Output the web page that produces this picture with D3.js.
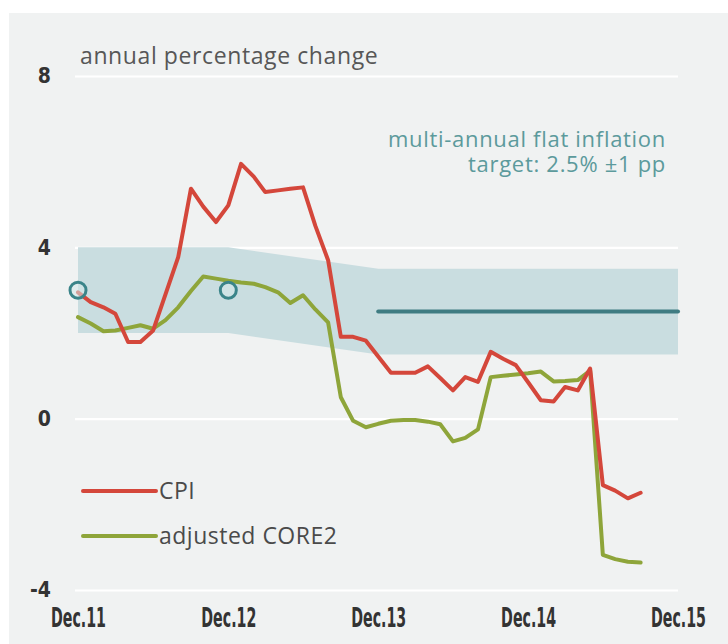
<!DOCTYPE html>
<html>
<head>
<meta charset="utf-8">
<script src="https://cdn.jsdelivr.net/npm/d3@7"></script>
<style>
  html, body { margin: 0; padding: 0; background: #ffffff; }
  svg { display: block; }
</style>
</head>
<body>
<svg id="chart" width="728" height="644"></svg>
<script>
// Monthly observations, Dec 2011 – Sep 2015
const periods = [
  "2011-12",
  "2012-01","2012-02","2012-03","2012-04","2012-05","2012-06",
  "2012-07","2012-08","2012-09","2012-10","2012-11","2012-12",
  "2013-01","2013-02","2013-03","2013-04","2013-05","2013-06",
  "2013-07","2013-08","2013-09","2013-10","2013-11","2013-12",
  "2014-01","2014-02","2014-03","2014-04","2014-05","2014-06",
  "2014-07","2014-08","2014-09","2014-10","2014-11","2014-12",
  "2015-01","2015-02","2015-03","2015-04","2015-05","2015-06",
  "2015-07","2015-08","2015-09"
];

// Annual percentage change
const cpi = [
  2.95,
  2.72, 2.60, 2.45, 1.79, 1.79, 2.06,
  2.90, 3.77, 5.37, 4.95, 4.59, 4.98,
  5.95, 5.65, 5.29, 5.33, 5.37, 5.40,
  4.50, 3.70, 1.91, 1.91, 1.82, 1.45,
  1.07, 1.07, 1.07, 1.22, 0.95, 0.66,
  0.97, 0.86, 1.56, 1.40, 1.25, 0.85,
  0.43, 0.40, 0.74, 0.66, 1.17, -1.55,
  -1.68, -1.86, -1.73
];

const core2 = [
  2.37,
  2.22, 2.04, 2.06, 2.12, 2.18, 2.10,
  2.30, 2.60, 2.98, 3.32, 3.27, 3.22,
  3.18, 3.15, 3.07, 2.95, 2.70, 2.88,
  2.55, 2.25, 0.50, -0.05, -0.20, -0.12,
  -0.05, -0.03, -0.03, -0.07, -0.13, -0.53,
  -0.45, -0.25, 0.97, 1.00, 1.03, 1.06,
  1.10, 0.87, 0.88, 0.90, 1.12, -3.18,
  -3.28, -3.34, -3.36
];

// Tolerance band around the inflation target
const bandPeriods = ["2011-12", "2012-12", "2013-12", "2015-12"];
const bandLow     = [2.0, 2.0, 1.5, 1.5];
const bandHigh    = [4.0, 4.0, 3.5, 3.5];

// Earlier annual point targets
const pointTargetPeriods = ["2011-12", "2012-12"];
const pointTargetValues  = [3.0, 3.0];

// Multi-annual flat target
const flatTargetPeriods = ["2013-12", "2015-12"];
const flatTargetValue = 2.5;

const yTicks = [-4, 0, 4, 8];
const xTickPeriods = ["2011-12", "2012-12", "2013-12", "2014-12", "2015-12"];

const seriesNames = ["CPI", "adjusted CORE2"];
const titleText = "annual percentage change";
const targetNote = ["multi-annual flat inflation", "target: 2.5% \u00b11 pp"];

// ---------------------------------------------------------------
const parse = d3.timeParse("%Y-%m");
const svg = d3.select("#chart");

const x = d3.scaleTime()
  .domain([parse("2011-12"), parse("2015-12")])
  .range([78, 678]);

const y = d3.scaleLinear()
  .domain([-4, 8])
  .range([590, 76]);

const colors = { cpi: "#d4473b", core: "#8ea53a", band: "#c9dde0", target: "#3f7c82", note: "#5c9a9c" };
const condensed = "'Liberation Sans Narrow', 'DejaVu Sans Condensed', 'Roboto', sans-serif";
const sans = "'Open Sans', 'Noto Sans', sans-serif";

// panel background
svg.append("rect")
  .attr("x", 9).attr("y", 13)
  .attr("width", 719).attr("height", 631)
  .attr("fill", "#f0f2f2");

// horizontal gridlines + value labels
const yAxis = d3.axisLeft(y)
  .tickValues(yTicks)
  .tickSize(603)
  .tickPadding(24)
  .tickFormat(d => String(d));

const gy = svg.append("g")
  .attr("transform", "translate(678,0)")
  .call(yAxis);
gy.select(".domain").remove();
gy.selectAll(".tick line")
  .attr("stroke", "#ffffff")
  .attr("stroke-width", 2.2);
gy.selectAll(".tick text")
  .attr("fill", "#333")
  .style("font-family", condensed)
  .style("font-weight", "bold")
  .style("font-size", "21px");

// tolerance band
const bandData = bandPeriods.map((p, i) => ({ date: parse(p), lo: bandLow[i], hi: bandHigh[i] }));
svg.append("path")
  .datum(bandData)
  .attr("fill", colors.band)
  .attr("d", d3.area()
    .x(d => x(d.date))
    .y0(d => y(d.lo))
    .y1(d => y(d.hi)));

// flat target line
svg.append("path")
  .datum(flatTargetPeriods.map(p => ({ date: parse(p), v: flatTargetValue })))
  .attr("fill", "none")
  .attr("stroke", colors.target)
  .attr("stroke-width", 4)
  .attr("stroke-linecap", "round")
  .attr("d", d3.line().x(d => x(d.date)).y(d => y(d.v)));

// series lines
const line = d3.line()
  .x(d => x(d.date))
  .y(d => y(d.v));

const series = [
  { key: "core", values: core2, color: colors.core },
  { key: "cpi", values: cpi, color: colors.cpi }
];

series.forEach(s => {
  svg.append("path")
    .datum(periods.map((p, i) => ({ date: parse(p), v: s.values[i] })))
    .attr("fill", "none")
    .attr("stroke", s.color)
    .attr("stroke-width", 4)
    .attr("stroke-linejoin", "round")
    .attr("stroke-linecap", "round")
    .attr("d", line);
});

// point targets
svg.selectAll("circle.pt")
  .data(pointTargetPeriods.map((p, i) => ({ date: parse(p), v: pointTargetValues[i] })))
  .join("circle")
  .attr("class", "pt")
  .attr("cx", d => x(d.date))
  .attr("cy", d => y(d.v))
  .attr("r", 8)
  .attr("fill", "#d4e8ea")
  .attr("fill-opacity", 0.55)
  .attr("stroke", "#3a8489")
  .attr("stroke-width", 3);

// x axis labels
const xAxis = d3.axisBottom(x)
  .tickValues(xTickPeriods.map(parse))
  .tickSize(0)
  .tickPadding(12)
  .tickFormat(d3.timeFormat("Dec.%y"));

const gx = svg.append("g")
  .attr("transform", "translate(0,590)")
  .call(xAxis);
gx.select(".domain").remove();
gx.selectAll(".tick text")
  .attr("fill", "#333")
  .attr("dy", "0.98em")
  .attr("textLength", 55)
  .attr("lengthAdjust", "spacingAndGlyphs")
  .style("font-family", condensed)
  .style("font-weight", "bold")
  .style("font-size", "26px");

// title
svg.append("text")
  .attr("x", 80).attr("y", 64)
  .attr("fill", "#575757")
  .style("font-family", sans)
  .style("font-size", "23px")
  .style("letter-spacing", "0.6px")
  .text(titleText);

// target annotation (one text block, two lines)
svg.append("text")
  .attr("text-anchor", "end")
  .attr("fill", colors.note)
  .style("font-family", sans)
  .style("font-size", "22px")
  .style("letter-spacing", "0.7px")
  .selectAll("tspan")
  .data(targetNote)
  .join("tspan")
  .attr("x", 666)
  .attr("y", (d, i) => 147 + i * 25)
  .text(d => d);

// legend
const legend = svg.append("g");
const legendItems = [
  { name: seriesNames[0], color: colors.cpi },
  { name: seriesNames[1], color: colors.core }
];
legendItems.forEach((d, i) => {
  const yy = 491 + i * 45;
  legend.append("line")
    .attr("x1", 83).attr("x2", 156)
    .attr("y1", yy).attr("y2", yy)
    .attr("stroke", d.color)
    .attr("stroke-width", 4)
    .attr("stroke-linecap", "round");
  legend.append("text")
    .attr("x", 159).attr("y", yy + 8)
    .attr("fill", "#4a4a4a")
    .style("font-family", sans)
    .style("font-size", "23px")
    .style("letter-spacing", "0.5px")
    .text(d.name);
});
</script>
</body>
</html>
